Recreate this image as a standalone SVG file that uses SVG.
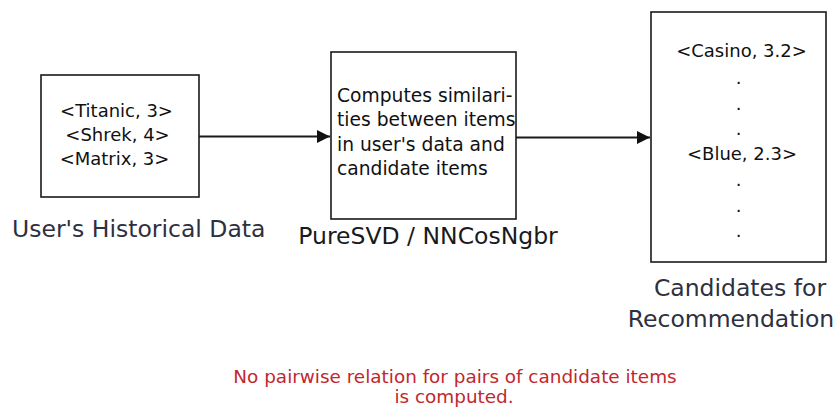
<svg xmlns="http://www.w3.org/2000/svg" width="838" height="412" viewBox="0 0 838 412">
<style>
.box{fill:#fff;stroke:#1a1a1a;stroke-width:1.6}
.t{font-family:"DejaVu Sans",sans-serif;font-size:18px;fill:#111}
.t2{font-family:"DejaVu Sans",sans-serif;font-size:18.7px;fill:#111}
.lbl{font-family:"DejaVu Sans",sans-serif;font-size:23.5px;fill:#2d3040}
.red{font-family:"DejaVu Sans",sans-serif;font-size:18.4px;fill:#c1272d;text-anchor:middle}
.c{text-anchor:middle}
.edge{stroke:#1a1a1a;stroke-width:1.8;fill:none}
</style>
<defs>
<marker id="ah" markerWidth="13" markerHeight="13" viewBox="0 0 13 13" refX="13" refY="6.5" orient="auto" markerUnits="userSpaceOnUse">
<path d="M0,0 L13,6.5 L0,13 Z" fill="#111"/>
</marker>
</defs>
<rect width="838" height="412" fill="#fff"/>
<g id="connectors">
<line class="edge" x1="199" y1="136.5" x2="330" y2="136.5" marker-end="url(#ah)"/>
<line class="edge" x1="516" y1="137.5" x2="650" y2="137.5" marker-end="url(#ah)"/>
</g>
<g id="history">
<rect class="box" x="41" y="75" width="158" height="122"/>
<text class="t c" x="116.5" y="116.5">&lt;Titanic, 3&gt;</text>
<text class="t c" x="117.5" y="141">&lt;Shrek, 4&gt;</text>
<text class="t c" x="114.5" y="165">&lt;Matrix, 3&gt;</text>
<text class="lbl" x="12" y="237">User's Historical Data</text>
</g>
<g id="model">
<rect class="box" x="331" y="52" width="185" height="167"/>
<text class="t2" x="337" y="101.5">Computes similari-</text>
<text class="t2" x="337" y="126">ties between items</text>
<text class="t2" x="337" y="150.5">in user's data and</text>
<text class="t2" x="337" y="175">candidate items</text>
<text class="lbl c" x="428" y="244" style="fill:#1a1a1a">PureSVD / NNCosNgbr</text>
</g>
<g id="candidates">
<rect class="box" x="651" y="12" width="175" height="250"/>
<text class="t c" x="741.5" y="57">&lt;Casino, 3.2&gt;</text>
<text class="t c" x="738.5" y="84">.</text>
<text class="t c" x="738.5" y="109.5">.</text>
<text class="t c" x="738.5" y="135">.</text>
<text class="t c" x="742" y="160">&lt;Blue, 2.3&gt;</text>
<text class="t c" x="738.5" y="186">.</text>
<text class="t c" x="738.5" y="212">.</text>
<text class="t c" x="738.5" y="237">.</text>
<text class="lbl c" x="740" y="296">Candidates for</text>
<text class="lbl c" x="731" y="327">Recommendation</text>
</g>
<g id="note">
<text class="red" x="455" y="383">No pairwise relation for pairs of candidate items</text>
<text class="red" x="454" y="403">is computed.</text>
</g>
</svg>
